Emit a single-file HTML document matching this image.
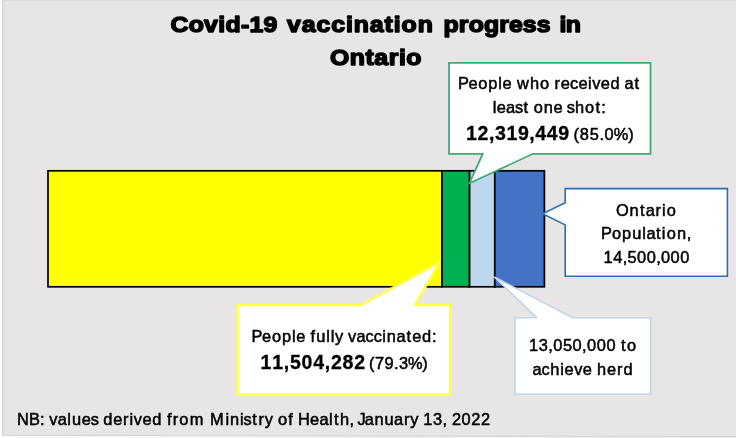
<!DOCTYPE html>
<html lang="en">
<head>
<meta charset="utf-8">
<title>Covid-19 vaccination progress in Ontario</title>
<style>
html,body{margin:0;padding:0;background:#e7e5e6;overflow:hidden}
body{width:736px;height:438px;position:relative;font-family:"Liberation Sans",sans-serif}
svg{position:absolute;left:0;top:0;display:block}
text{font-family:"Liberation Sans",sans-serif;fill:#0a0a0a;white-space:pre}
.t{font-weight:bold;font-size:22.8px;stroke:#000;stroke-width:1.5px;stroke-linejoin:round;fill:#000}
.r{font-size:16.4px;fill:#000;stroke:#000;stroke-width:0.5px}
.b{font-size:19.5px;font-weight:bold;fill:#000;stroke:#000;stroke-width:0.3px}
</style>
</head>
<body>
<svg width="736" height="438" viewBox="0 0 736 438">
  <!-- background -->
  <rect x="0" y="0" width="736" height="438" fill="#e7e5e6"/>
  <rect x="0" y="0" width="736" height="1" fill="#dcdbdc"/>
  <rect x="0" y="1" width="736" height="1" fill="#e3e2e3"/>
  <rect x="0" y="0" width="2" height="438" fill="#ffffff"/>
  <rect x="2" y="0" width="1" height="436" fill="#dad9da"/>
  <rect x="3" y="0" width="1" height="436" fill="#dfdedf"/>
  <rect x="4" y="1" width="1" height="435" fill="#e4e3e4"/>
  <defs><linearGradient id="bw" x1="0" y1="0" x2="1" y2="0"><stop offset="0" stop-color="#fbfbfb"/><stop offset="0.55" stop-color="#f1f0f1"/><stop offset="1" stop-color="#e9e8e9"/></linearGradient></defs>
  <polygon points="2,435.6 736,437 736,438 2,438" fill="url(#bw)"/>
  <polygon points="2,434.8 736,436.1 736,437.1 2,435.8" fill="#d6d5d6"/>

  <!-- title -->
  <text class="t" y="32.5" transform="scale(1.09,1)"><tspan x="156.33" textLength="98.17" lengthAdjust="spacing">Covid-19</tspan> <tspan x="263.21" textLength="133.94" lengthAdjust="spacing">vaccination</tspan> <tspan x="406.97" textLength="98.17" lengthAdjust="spacing">progress</tspan> <tspan x="513.21" textLength="19.82" lengthAdjust="spacing">in</tspan></text>
  <text class="t" y="64.8" transform="scale(1.09,1)"><tspan x="302.75" textLength="83.94" lengthAdjust="spacing">Ontario</tspan></text>

  <!-- stacked bar -->
  <g stroke="#000" stroke-width="1.7">
    <rect x="48" y="170.8" width="394" height="116" fill="#ffff00"/>
    <rect x="442" y="170.8" width="27.6" height="116" fill="#00b050"/>
    <rect x="469.6" y="170.8" width="25.2" height="116" fill="#bdd7ee"/>
    <rect x="494.8" y="170.8" width="49.6" height="116" fill="#4472c4"/>
  </g>

  <!-- green callout -->
  <polygon points="449,62.8 650.5,62.8 650.5,153.8 533,153.8 469.5,183.2 482.7,153.8 449,153.8" fill="#fff" stroke="#3dac74" stroke-width="1.8" stroke-linejoin="miter"/>
  <text class="r" y="88.5" x="457.9 468.4 478.2 488.2 498.2 502.4 511.5 516.9 530.1 540.1 549.6 554.6 560.8 570.1 578.4 588.0 592.3 600.8 610.6 620.0 624.5 634.5">People who received at</text>
  <text class="r" y="112.5" x="492.7 496.8 506.1 514.9 523.6 528.9 533.8 543.8 553.6 562.7 566.8 575.0 585.1 595.5 601.3">least one shot:</text>
  <text class="b" y="139.6" x="466.0 477.5 488.9 494.9 506.4 517.9 529.3 535.3 546.8 558.3">12,319,449</text>
  <text class="r" y="139.6" x="573.6 579.7 589.7 599.4 604.5 613.8 628.3">(85.0%)</text>

  <!-- yellow callout -->
  <polygon points="237.4,305 361.2,305 439.8,262.1 414.8,305 450,305 450,394.5 237.4,394.5" fill="#fff" stroke="#ffff50" stroke-width="2.5" stroke-linejoin="miter" stroke-miterlimit="2"/>
  <text class="r" y="342" x="251.4 262.1 271.9 282.0 292.0 296.3 305.5 310.6 316.3 326.3 330.7 335.0 343.3 348.0 356.5 365.6 373.8 382.3 386.8 396.5 406.6 412.3 422.1 432.0">People fully vaccinated:</text>
  <text class="b" y="368.5" x="260.5 272.2 283.8 289.9 301.6 313.3 324.8 330.9 342.6 354.3">11,504,282</text>
  <text class="r" y="368.5" x="369.1 374.9 384.6 394.1 399.0 407.9 422.2">(79.3%)</text>

  <!-- blue callout -->
  <polygon points="565.2,188.6 727.4,188.6 727.4,276.2 565.2,276.2 565.2,224.9 542.6,213.7 565.2,202.8" fill="#fff" stroke="#2a6fb0" stroke-width="1.6" stroke-linejoin="miter"/>
  <text class="r" y="215.5" x="616.1 629.5 640.1 645.7 655.6 662.1 666.7">Ontario</text>
  <text class="r" y="238.5" x="601.0 612.0 622.1 632.3 642.3 646.4 656.0 661.8 666.8 677.0 686.7">Population,</text>
  <text class="r" y="262.5" x="603.6 613.2 622.7 627.5 637.1 646.7 656.2 661.1 670.6 680.2">14,500,000</text>

  <!-- light blue callout -->
  <polygon points="515,317.8 537,317.8 494.3,277 572.5,317.8 650.6,317.8 650.6,394.2 515,394.2" fill="#fff" stroke="#c3d4e8" stroke-width="1.6" stroke-linejoin="miter" stroke-miterlimit="2"/>
  <text class="r" y="351.1" x="529.1 538.8 548.3 553.2 562.9 572.6 582.1 587.0 596.7 606.4 615.7 621.0 627.0">13,050,000 to</text>
  <text class="r" y="374.5" x="532.5 541.6 550.3 560.3 564.6 574.2 582.8 592.1 597.1 606.9 616.9 623.5">achieve herd</text>

  <!-- footer -->
  <text class="r" y="425" x="17.1 28.9 39.9 44.7 49.3 57.8 67.3 71.9 81.7 90.7 98.4 103.3 113.2 123.1 129.6 133.8 142.5 152.3 161.8 166.9 172.7 179.3 189.7 204.1 209.9 225.4 229.9 239.9 243.5 252.3 258.4 264.7 273.1 278.0 288.3 293.4 297.9 310.0 319.4 328.9 333.9 339.9 349.6 354.2 357.6 364.8 374.4 384.5 394.1 403.9 410.2 418.6 423.3 433.0 442.6 447.1 451.9 461.6 471.3 481.1">NB: values derived from Ministry of Health, January 13, 2022</text>
</svg>
</body>
</html>
